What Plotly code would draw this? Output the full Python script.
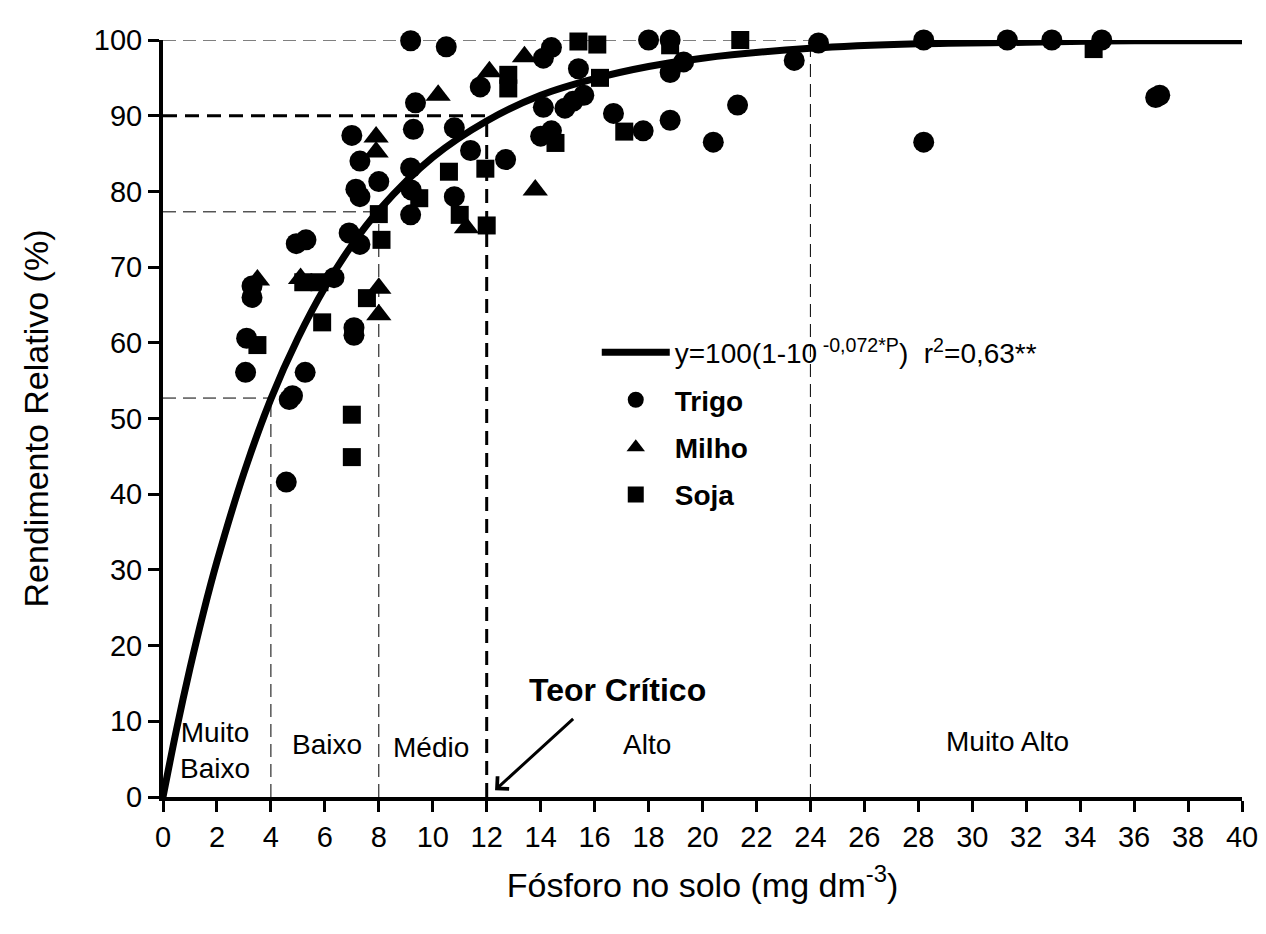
import plotly.graph_objects as go

# ---------------- data ----------------
trigo_x = [3.06, 3.1, 3.3, 3.3, 4.57, 4.68, 4.8, 4.94, 5.3, 5.27, 6.34, 6.9, 7.0, 7.3, 7.15, 7.3,
           7.3, 7.08, 7.08, 8.0, 9.18, 10.5, 11.8, 9.36, 9.28, 10.8, 9.18, 9.2, 9.18, 11.76, 11.4,
           12.7, 10.8, 14.1, 14.4, 15.4, 14.1, 14.9, 15.2, 15.6, 14.0, 14.4, 16.7, 16.85, 17.2,
           18.0, 18.8, 18.8, 19.3, 17.8, 18.8, 21.3, 20.4, 23.4, 24.3, 28.2, 31.3, 32.95, 34.8,
           28.2, 36.8, 36.95]
trigo_y = [56.1, 60.6, 66.0, 67.5, 41.6, 52.5, 53.0, 73.1, 73.6, 56.1, 68.6, 74.5, 87.4, 84.0, 80.3, 79.3,
           73.0, 62.0, 61.0, 81.3, 99.9, 99.1, 100.1, 91.7, 88.2, 88.4, 83.1, 80.2, 76.9, 93.8, 85.4,
           84.2, 79.3, 97.6, 99.0, 96.2, 91.1, 91.0, 91.9, 92.7, 87.3, 88.0, 90.3, 100.1, 100.1,
           100.0, 100.0, 95.7, 97.1, 88.0, 89.4, 91.4, 86.5, 97.3, 99.6, 100.0, 100.0, 100.0, 100.0,
           86.5, 92.4, 92.7]

milho_x = [3.5, 5.1, 7.9, 7.9, 8.0, 8.0, 10.2, 11.25, 12.1, 12.2, 13.4, 13.8, 14.4, 14.9, 20.4, 20.9]
milho_y = [68.3, 68.5, 87.2, 85.2, 67.2, 63.7, 92.7, 75.2, 95.8, 100.2, 97.8, 80.2, 100.2, 100.2, 100.2, 100.2]

soja_x = [3.5, 5.2, 5.8, 5.9, 7.56, 7.0, 7.0, 8.0, 8.1, 9.5, 10.6, 11.0, 11.95, 12.0, 12.8, 12.8,
          14.55, 15.4, 16.1, 16.2, 17.1, 18.8, 21.4, 23.8, 34.5]
soja_y = [59.7, 68.0, 68.0, 62.7, 65.9, 50.5, 44.9, 77.0, 73.6, 79.1, 82.6, 76.9, 83.0, 75.5, 95.4, 93.6,
          86.4, 99.8, 99.4, 95.0, 87.9, 99.3, 100.0, 100.2, 98.8]

# fitted curve
curve_x = [0, 0.5, 1, 1.5, 2, 3, 4, 5, 6, 7, 8, 10, 12, 14, 16, 18, 20, 24, 28, 32, 36, 40]
curve_y = [0, 8.9, 17.0, 24.4, 31.1, 42.8, 52.6, 60.6, 67.3, 72.9, 77.5, 84.5, 89.3, 92.7, 94.9,
           96.5, 97.6, 98.9, 99.5, 99.7, 99.9, 99.9]

# class limits (P, relative yield)
limits_p = [4, 8, 12, 24]
limits_y = [52.7, 77.3, 90, 100]

class_labels = ["Muito<br>Baixo", "Baixo", "Médio", "Alto", "Muito Alto"]
class_x = [1.92, 6.08, 9.95, 17.95, 31.3]
class_y = [6.1, 6.9, 6.5, 6.9, 7.3]

x_ticks = list(range(0, 41, 2))
y_ticks = list(range(0, 101, 10))

FONT = "Arial, Liberation Sans, sans-serif"

fig = go.Figure()
fig.add_trace(go.Scatter(
    x=curve_x, y=curve_y, mode="lines", line=dict(color="black", width=7, shape="spline"),
    name="y=100(1-10<sup> -0,072*P</sup>)  r<sup>2</sup>=0,63**", legendgroup="a", cliponaxis=False))
fig.add_trace(go.Scatter(
    x=trigo_x, y=trigo_y, mode="markers", marker=dict(symbol="circle", size=21, color="black"),
    name="<b>Trigo</b>", legendgroup="b", cliponaxis=False))
fig.add_trace(go.Scatter(
    x=milho_x, y=milho_y, mode="markers", marker=dict(symbol="triangle-up", size=22, color="black"),
    name="<b>Milho</b>", legendgroup="c", cliponaxis=False))
fig.add_trace(go.Scatter(
    x=soja_x, y=soja_y, mode="markers", marker=dict(symbol="square", size=18, color="black"),
    name="<b>Soja</b>", legendgroup="d", cliponaxis=False))

shapes = []
for p, yv in zip(limits_p, limits_y):
    thick = (p == 12)
    ln = dict(color="black", width=3 if thick else 1, dash="14px,8px" if thick else "13px,7px")
    shapes.append(dict(type="line", xref="x", yref="y", x0=p, x1=p, y0=0, y1=yv, line=ln, layer="below"))
    shapes.append(dict(type="line", xref="x", yref="y", x0=0, x1=p, y0=yv, y1=yv, line=ln, layer="below"))

annotations = []
for t, xv, yv in zip(class_labels, class_x, class_y):
    annotations.append(dict(x=xv, y=yv, xref="x", yref="y", text=t, showarrow=False,
                            font=dict(size=28, color="black", family=FONT)))
annotations.append(dict(x=16.85, y=14.1, xref="x", yref="y", text="<b>Teor Crítico</b>",
                        showarrow=False, font=dict(size=32, color="black", family=FONT)))
annotations.append(dict(x=12.31, y=0.9, xref="x", yref="y", ax=15.26, ay=10.5, axref="x", ayref="y",
                        text="", showarrow=True, arrowhead=4, arrowsize=1.1, arrowwidth=3,
                        arrowcolor="black"))

fig.update_layout(
    width=1266, height=934,
    margin=dict(l=163, r=8, t=40, b=137),
    paper_bgcolor="white", plot_bgcolor="white",
    font=dict(family=FONT, color="black", size=29),
    showlegend=True,
    legend=dict(x=0.402, y=0.62, xanchor="left", yanchor="top", bgcolor="rgba(0,0,0,0)",
                font=dict(size=28, color="black", family=FONT), tracegroupgap=8,
                traceorder="grouped", itemsizing="trace", itemwidth=68),
    shapes=shapes, annotations=annotations,
    xaxis=dict(range=[0, 40], tickvals=x_ticks, ticktext=[str(v) for v in x_ticks],
               showgrid=False, zeroline=False, showline=True, linecolor="black", linewidth=4,
               ticks="outside", ticklen=11, tickwidth=3, tickcolor="black",
               tickfont=dict(size=29, family=FONT), ticklabeloverflow="allow",
               title=dict(text="Fósforo no solo (mg dm<sup>-3</sup>)", font=dict(size=34, family=FONT),
                          standoff=22)),
    yaxis=dict(range=[0, 100], tickvals=y_ticks, ticktext=[str(v) for v in y_ticks],
               showgrid=False, zeroline=False, showline=True, linecolor="black", linewidth=4,
               ticks="outside", ticklen=11, tickwidth=3, tickcolor="black",
               tickfont=dict(size=29, family=FONT),
               title=dict(text="Rendimento Relativo (%)", font=dict(size=34, family=FONT),
                          standoff=36)),
)

fig.write_html("out.html",
               config=dict(responsive=False, displayModeBar=False),
               post_script="document.body.style.margin='0';document.body.style.overflow='hidden';")
